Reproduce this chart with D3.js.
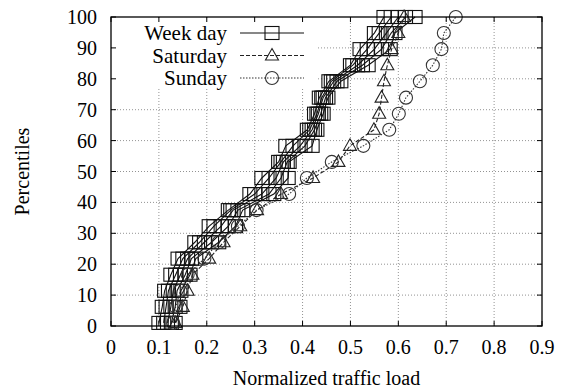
<!DOCTYPE html>
<html>
<head>
<meta charset="utf-8">
<script src="https://cdn.jsdelivr.net/npm/d3@7"></script>
<style>
  body { margin: 0; background: #fff; }
</style>
</head>
<body>
<div id="chart-area"></div>
<script>
// percentile levels where the markers sit
const percentiles = [1, 6.2, 11.4, 16.6, 21.8, 27.1, 32.3, 37.5, 42.7, 47.9,
                     53.1, 58.3, 63.5, 68.7, 73.9, 79.2, 84.4, 89.6, 94.8, 100];

// five week days (squares)
const weekday1 = [0.100, 0.107, 0.112, 0.125, 0.140, 0.175, 0.205, 0.245, 0.290, 0.315,
                  0.350, 0.365, 0.410, 0.425, 0.435, 0.455, 0.500, 0.520, 0.550, 0.570];
const weekday2 = [0.110, 0.115, 0.120, 0.135, 0.150, 0.185, 0.215, 0.250, 0.300, 0.330,
                  0.355, 0.380, 0.415, 0.430, 0.440, 0.460, 0.505, 0.535, 0.560, 0.585];
const weekday3 = [0.118, 0.125, 0.130, 0.145, 0.160, 0.195, 0.230, 0.255, 0.315, 0.345,
                  0.360, 0.395, 0.420, 0.433, 0.443, 0.465, 0.515, 0.550, 0.575, 0.600];
const weekday4 = [0.126, 0.134, 0.138, 0.155, 0.168, 0.210, 0.245, 0.265, 0.330, 0.355,
                  0.368, 0.405, 0.425, 0.438, 0.448, 0.472, 0.525, 0.565, 0.585, 0.615];
const weekday5 = [0.134, 0.144, 0.146, 0.165, 0.177, 0.225, 0.260, 0.275, 0.340, 0.370,
                  0.372, 0.420, 0.430, 0.443, 0.453, 0.480, 0.537, 0.583, 0.593, 0.635];
const saturday = [0.135, 0.150, 0.160, 0.170, 0.205, 0.235, 0.270, 0.305, 0.355, 0.422,
                  0.475, 0.499, 0.549, 0.560, 0.565, 0.570, 0.577, 0.586, 0.600, 0.612];
const sunday   = [0.130, 0.135, 0.145, 0.160, 0.195, 0.225, 0.265, 0.304, 0.372, 0.409,
                  0.461, 0.527, 0.581, 0.601, 0.616, 0.645, 0.672, 0.690, 0.695, 0.720];

const xTicks = [0, 0.1, 0.2, 0.3, 0.4, 0.5, 0.6, 0.7, 0.8, 0.9];
const yTicks = [0, 10, 20, 30, 40, 50, 60, 70, 80, 90, 100];
const legendNames = ["Week day", "Saturday", "Sunday"];

const serif = '"Liberation Serif", "Times New Roman", serif';

const margin = {top: 17, right: 27, bottom: 64, left: 111};
const W = 569, H = 390;
const width = W - margin.left - margin.right;
const height = H - margin.top - margin.bottom;

const svg = d3.select('#chart-area')
  .append('svg')
  .attr('width', W)
  .attr('height', H)
  .attr('font-family', serif);

const g = svg.append('g')
  .attr('transform', `translate(${margin.left}, ${margin.top})`);

const x = d3.scaleLinear().domain([0, 0.9]).range([0, width]);
const y = d3.scaleLinear().domain([0, 100]).range([height, 0]);

// grid
g.append('g')
  .selectAll('line')
  .data(xTicks.slice(1, -1))
  .enter().append('line')
  .attr('x1', d => x(d)).attr('x2', d => x(d))
  .attr('y1', 0).attr('y2', height)
  .attr('stroke', '#777').attr('stroke-width', 0.8)
  .attr('stroke-dasharray', '1,2');
g.append('g')
  .selectAll('line')
  .data(yTicks.slice(1, -1))
  .enter().append('line')
  .attr('x1', 0).attr('x2', width)
  .attr('y1', d => y(d)).attr('y2', d => y(d))
  .attr('stroke', '#777').attr('stroke-width', 0.8)
  .attr('stroke-dasharray', '1,2');

// legend box blanks the grid behind it
g.append('rect')
  .attr('x', 1).attr('y', 1)
  .attr('width', 205).attr('height', 70)
  .attr('fill', '#fff');

// series
const series = [
  {vals: weekday1, kind: 'sq', dash: null, color: '#111'},
  {vals: weekday2, kind: 'sq', dash: null, color: '#111'},
  {vals: weekday3, kind: 'sq', dash: null, color: '#111'},
  {vals: weekday4, kind: 'sq', dash: null, color: '#111'},
  {vals: weekday5, kind: 'sq', dash: null, color: '#111'},
  {vals: saturday, kind: 'tri', dash: '4,2', color: '#222'},
  {vals: sunday, kind: 'circ', dash: '1.5,1.5', color: '#333'}
];

const line = d3.line()
  .x(d => x(d[0]))
  .y(d => y(d[1]));

function drawMarker(sel, kind, color) {
  if (kind === 'sq') {
    sel.append('rect')
      .attr('x', -7).attr('y', -6.5)
      .attr('width', 14).attr('height', 13)
      .attr('fill', 'none').attr('stroke', color).attr('stroke-width', 1.1);
  } else if (kind === 'tri') {
    sel.append('path')
      .attr('d', 'M0,-7L6.5,4.5L-6.5,4.5Z')
      .attr('fill', 'none').attr('stroke', color).attr('stroke-width', 1.1);
  } else {
    sel.append('circle')
      .attr('r', 6.5)
      .attr('fill', 'none').attr('stroke', color).attr('stroke-width', 1.1);
  }
}

series.forEach(s => {
  const pts = s.vals.map((v, i) => [v, percentiles[i]]);
  g.append('path')
    .datum(pts)
    .attr('d', line)
    .attr('fill', 'none')
    .attr('stroke', s.color)
    .attr('stroke-width', 1.1)
    .attr('stroke-dasharray', s.dash);
  g.selectAll(null)
    .data(pts)
    .enter().append('g')
    .attr('transform', d => `translate(${x(d[0])}, ${y(d[1])})`)
    .each(function() { drawMarker(d3.select(this), s.kind, s.color); });
});

// legend
const legend = g.append('g');
const legendKinds = [
  {kind: 'sq', dash: null, color: '#111'},
  {kind: 'tri', dash: '4,2', color: '#222'},
  {kind: 'circ', dash: '1.5,1.5', color: '#333'}
];
legendNames.forEach((name, i) => {
  const ly = 16 + i * 22.5;
  legend.append('text')
    .attr('x', 116).attr('y', ly)
    .attr('dy', '0.35em')
    .attr('text-anchor', 'end')
    .attr('font-family', serif)
    .attr('font-size', 21)
    .text(name);
  legend.append('line')
    .attr('x1', 129).attr('x2', 193)
    .attr('y1', ly).attr('y2', ly)
    .attr('stroke', legendKinds[i].color)
    .attr('stroke-width', 1.1)
    .attr('stroke-dasharray', legendKinds[i].dash);
  const m = legend.append('g').attr('transform', `translate(161, ${ly})`);
  drawMarker(m, legendKinds[i].kind, legendKinds[i].color);
});

// ticks, mirrored on all sides, pointing inward
const tickLen = 5;
xTicks.forEach(t => {
  g.append('line').attr('x1', x(t)).attr('x2', x(t))
    .attr('y1', height).attr('y2', height - tickLen).attr('stroke', '#000');
  g.append('line').attr('x1', x(t)).attr('x2', x(t))
    .attr('y1', 0).attr('y2', tickLen).attr('stroke', '#000');
});
yTicks.forEach(t => {
  g.append('line').attr('x1', 0).attr('x2', tickLen)
    .attr('y1', y(t)).attr('y2', y(t)).attr('stroke', '#000');
  g.append('line').attr('x1', width).attr('x2', width - tickLen)
    .attr('y1', y(t)).attr('y2', y(t)).attr('stroke', '#000');
});

// tick labels
g.selectAll('text.xl')
  .data(xTicks)
  .enter().append('text')
  .attr('x', d => x(d))
  .attr('y', height + 21)
  .attr('dy', '0.35em')
  .attr('text-anchor', 'middle')
  .attr('font-family', serif)
  .attr('font-size', 20)
  .text(d => d === 0 ? '0' : d3.format('.1f')(d));
g.selectAll('text.yl')
  .data(yTicks)
  .enter().append('text')
  .attr('x', -14)
  .attr('y', d => y(d))
  .attr('dy', '0.35em')
  .attr('text-anchor', 'end')
  .attr('font-family', serif)
  .attr('font-size', 20)
  .text(d => d);

// frame
g.append('rect')
  .attr('width', width).attr('height', height)
  .attr('fill', 'none').attr('stroke', '#000').attr('stroke-width', 1.3);

// axis titles
svg.append('text')
  .attr('x', margin.left + width / 2)
  .attr('y', 378)
  .attr('dy', '0.35em')
  .attr('text-anchor', 'middle')
  .attr('font-family', serif)
  .attr('font-size', 20)
  .text('Normalized traffic load');
svg.append('text')
  .attr('transform', `translate(22, ${margin.top + height / 2}) rotate(-90)`)
  .attr('dy', '0.35em')
  .attr('text-anchor', 'middle')
  .attr('font-family', serif)
  .attr('font-size', 20)
  .text('Percentiles');
</script>
</body>
</html>
